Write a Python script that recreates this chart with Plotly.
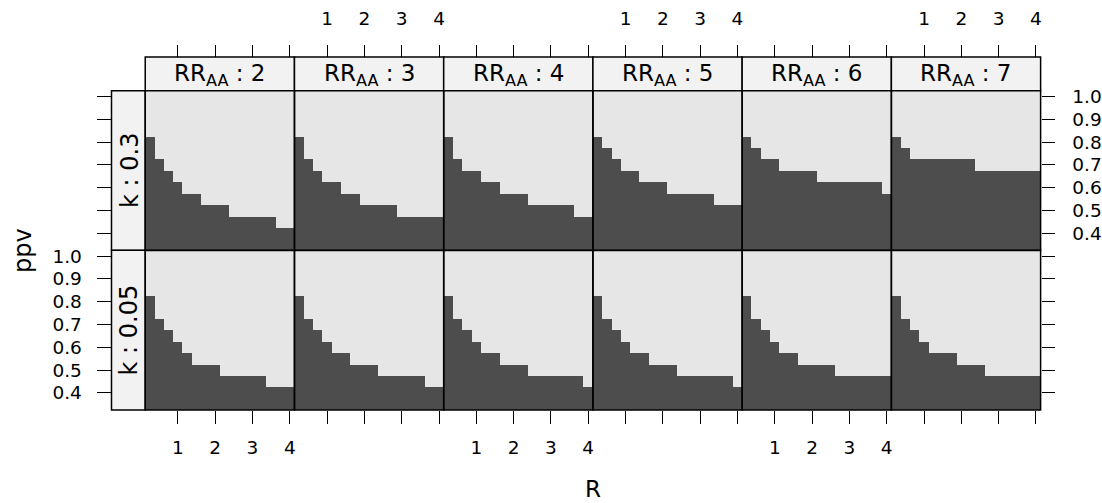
import numpy as np
import plotly.graph_objects as go

# ---------------- data ----------------
R = [0.25, 0.5, 0.75, 1.0, 1.25, 1.5, 1.75, 2.0, 2.25, 2.5, 2.75, 3.0, 3.25, 3.5, 3.75, 4.0]
ppv = [0.35, 0.40, 0.45, 0.50, 0.55, 0.60, 0.65, 0.70, 0.75, 0.80, 0.85, 0.90, 0.95, 1.00]
rr_levels = [2, 3, 4, 5, 6, 7]
k_levels = ["0.3", "0.05"]

# highest ppv that is "true" (dark) at each R, per RR_AA panel
thr_k03 = {
    2: [0.80, 0.70, 0.65, 0.60, 0.55, 0.55, 0.50, 0.50, 0.50, 0.45, 0.45, 0.45, 0.45, 0.45, 0.40, 0.40],
    3: [0.80, 0.70, 0.65, 0.60, 0.60, 0.55, 0.55, 0.50, 0.50, 0.50, 0.50, 0.45, 0.45, 0.45, 0.45, 0.45],
    4: [0.80, 0.70, 0.65, 0.65, 0.60, 0.60, 0.55, 0.55, 0.55, 0.50, 0.50, 0.50, 0.50, 0.50, 0.45, 0.45],
    5: [0.80, 0.75, 0.70, 0.65, 0.65, 0.60, 0.60, 0.60, 0.55, 0.55, 0.55, 0.55, 0.55, 0.50, 0.50, 0.50],
    6: [0.80, 0.75, 0.70, 0.70, 0.65, 0.65, 0.65, 0.65, 0.60, 0.60, 0.60, 0.60, 0.60, 0.60, 0.60, 0.55],
    7: [0.80, 0.75, 0.70, 0.70, 0.70, 0.70, 0.70, 0.70, 0.70, 0.65, 0.65, 0.65, 0.65, 0.65, 0.65, 0.65],
}
thr_k005 = {
    2: [0.80, 0.70, 0.65, 0.60, 0.55, 0.50, 0.50, 0.50, 0.45, 0.45, 0.45, 0.45, 0.45, 0.40, 0.40, 0.40],
    3: [0.80, 0.70, 0.65, 0.60, 0.55, 0.55, 0.50, 0.50, 0.50, 0.45, 0.45, 0.45, 0.45, 0.45, 0.40, 0.40],
    4: [0.80, 0.70, 0.65, 0.60, 0.55, 0.55, 0.50, 0.50, 0.50, 0.45, 0.45, 0.45, 0.45, 0.45, 0.45, 0.40],
    5: [0.80, 0.70, 0.65, 0.60, 0.55, 0.55, 0.50, 0.50, 0.50, 0.45, 0.45, 0.45, 0.45, 0.45, 0.45, 0.40],
    6: [0.80, 0.70, 0.65, 0.60, 0.55, 0.55, 0.50, 0.50, 0.50, 0.50, 0.45, 0.45, 0.45, 0.45, 0.45, 0.45],
    7: [0.80, 0.70, 0.65, 0.60, 0.55, 0.55, 0.55, 0.50, 0.50, 0.50, 0.45, 0.45, 0.45, 0.45, 0.45, 0.45],
}
thresholds = [thr_k03, thr_k005]

x_ticks = [1, 2, 3, 4]
y_ticks = [0.4, 0.5, 0.6, 0.7, 0.8, 0.9, 1.0]

# ---------------- layout geometry (pixels) ----------------
W, H = 1102, 503
FONT = "DejaVu Sans"
DARK, LIGHT, STRIP = "#4D4D4D", "#E6E6E6", "#F2F2F2"
col_left0, col_w = 145.5, 149.5
row_top = [86.7, 247.8]
row_h = 161.2
strip_top = 52.5
lstrip_left = 111.7

def px(x):
    return x / W

def py(y):
    return 1 - y / H

x_range = [R[0] - 0.125, R[-1] + 0.125]
y_range = [ppv[0] - 0.025, ppv[-1] + 0.025]

fig = go.Figure()
layout = dict(
    width=W, height=H, margin=dict(l=0, r=0, t=0, b=0),
    paper_bgcolor="white", plot_bgcolor=LIGHT, showlegend=False,
    font=dict(family=FONT, size=18, color="black"),
)
shapes = []
annotations = []
TICKFONT = dict(size=18.5, family=FONT)

ppv_arr = np.array(ppv)
for r, k in enumerate(k_levels):
    for c, rr in enumerate(rr_levels):
        n = r * 6 + c + 1
        thr = np.array(thresholds[r][rr])
        z = (np.round(ppv_arr[:, None], 3) <= np.round(thr[None, :], 3)).astype(int)
        fig.add_trace(go.Heatmap(
            x=R, y=ppv, z=z, zmin=0, zmax=1,
            colorscale=[[0, LIGHT], [1, DARK]], showscale=False,
            xaxis=f"x{n}", yaxis=f"y{n}", hoverinfo="skip",
        ))
        x0 = col_left0 + c * col_w
        x1 = x0 + col_w
        y0 = row_top[r]
        y1 = y0 + row_h
        xd = [px(x0), px(x1)]
        yd = [py(y1), py(y0)]
        xa = dict(domain=xd, range=x_range, showgrid=False, zeroline=False,
                  showline=False, tickvals=x_ticks, ticks="outside",
                  tickcolor="black", tickwidth=1.3, tickfont=TICKFONT)
        if r == 0:
            xa.update(anchor="free", position=py(strip_top), side="top",
                      ticklen=12, showticklabels=(c % 2 == 1), ticklabelstandoff=13)
        else:
            xa.update(anchor=f"y{n}", side="bottom", ticklen=13,
                      showticklabels=(c % 2 == 0), ticklabelstandoff=8)
        ya = dict(domain=yd, range=y_range, showgrid=False, zeroline=False,
                  showline=False, tickvals=y_ticks, tickformat=".1f",
                  tickcolor="black", tickwidth=1.3, tickfont=TICKFONT)
        if c == 0:
            ya.update(anchor="free", position=px(lstrip_left), side="left",
                      ticks="outside", ticklen=14, showticklabels=(r == 1),
                      ticklabelstandoff=12)
        elif c == 5:
            ya.update(anchor=f"x{n}", side="right", ticks="outside", ticklen=13,
                      showticklabels=(r == 0), ticklabelstandoff=14)
        else:
            ya.update(anchor=f"x{n}", ticks="", showticklabels=False)
        layout[f"xaxis{n}"] = xa
        layout[f"yaxis{n}"] = ya
        # panel border
        shapes.append(dict(type="rect", xref="paper", yref="paper",
                           x0=xd[0], x1=xd[1], y0=yd[0], y1=yd[1],
                           line=dict(color="black", width=1.5), layer="above"))

# top strips
for c, rr in enumerate(rr_levels):
    x0 = col_left0 + c * col_w
    x1 = x0 + col_w
    shapes.append(dict(type="rect", xref="paper", yref="paper",
                       x0=px(x0), x1=px(x1), y0=py(row_top[0]), y1=py(strip_top),
                       fillcolor=STRIP, line=dict(color="black", width=1.5), layer="below"))
    annotations.append(dict(xref="paper", yref="paper", x=px((x0 + x1) / 2),
                            y=py((strip_top + row_top[0]) / 2 + 1),
                            text=f"RR<sub>AA</sub> : {rr}", showarrow=False,
                            xanchor="center", yanchor="middle",
                            font=dict(size=23, family=FONT)))
# left strips
for r, k in enumerate(k_levels):
    y0 = row_top[r]
    y1 = y0 + row_h
    shapes.append(dict(type="rect", xref="paper", yref="paper",
                       x0=px(lstrip_left), x1=px(col_left0), y0=py(y1), y1=py(y0),
                       fillcolor=STRIP, line=dict(color="black", width=1.5), layer="below"))
    annotations.append(dict(xref="paper", yref="paper", x=px((lstrip_left + col_left0) / 2 + 1),
                            y=py((y0 + y1) / 2), text=f"k : {k}", textangle=-90,
                            showarrow=False, xanchor="center", yanchor="middle",
                            font=dict(size=24, family=FONT)))

# axis titles
annotations.append(dict(xref="paper", yref="paper", x=px(594), y=py(489), text="R",
                        showarrow=False, xanchor="center", yanchor="middle",
                        font=dict(size=23, family=FONT)))
annotations.append(dict(xref="paper", yref="paper", x=px(23), y=py(247.5), text="ppv",
                        textangle=-90, showarrow=False, xanchor="center", yanchor="middle",
                        font=dict(size=24, family=FONT)))

layout["shapes"] = shapes
layout["annotations"] = annotations
fig.update_layout(**layout)
fig.write_html("out.html", config={"displayModeBar": False},
               post_script="document.body.style.margin='0px';document.body.style.padding='0px';")
